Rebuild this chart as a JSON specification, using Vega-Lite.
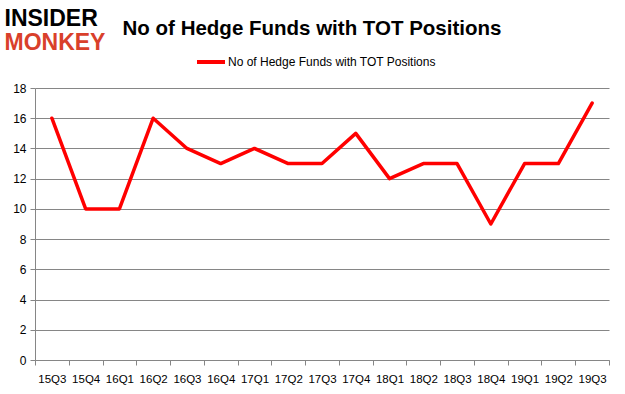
{
  "$schema": "https://vega.github.io/schema/vega-lite/v6.json",
  "autosize": "none",
  "width": 574,
  "height": 272,
  "padding": {"left": 35, "top": 88, "right": 16, "bottom": 34},
  "background": "white",
  "title": {
    "text": "No of Hedge Funds with TOT Positions",
    "font": "Liberation Sans",
    "fontSize": 20.5,
    "fontWeight": "bold",
    "color": "#000000",
    "anchor": "middle",
    "dx": -10,
    "offset": -32
  },
  "data": {
    "values": [
      {"q": "15Q3", "v": 16, "s": "No of Hedge Funds with TOT Positions"},
      {"q": "15Q4", "v": 10, "s": "No of Hedge Funds with TOT Positions"},
      {"q": "16Q1", "v": 10, "s": "No of Hedge Funds with TOT Positions"},
      {"q": "16Q2", "v": 16, "s": "No of Hedge Funds with TOT Positions"},
      {"q": "16Q3", "v": 14, "s": "No of Hedge Funds with TOT Positions"},
      {"q": "16Q4", "v": 13, "s": "No of Hedge Funds with TOT Positions"},
      {"q": "17Q1", "v": 14, "s": "No of Hedge Funds with TOT Positions"},
      {"q": "17Q2", "v": 13, "s": "No of Hedge Funds with TOT Positions"},
      {"q": "17Q3", "v": 13, "s": "No of Hedge Funds with TOT Positions"},
      {"q": "17Q4", "v": 15, "s": "No of Hedge Funds with TOT Positions"},
      {"q": "18Q1", "v": 12, "s": "No of Hedge Funds with TOT Positions"},
      {"q": "18Q2", "v": 13, "s": "No of Hedge Funds with TOT Positions"},
      {"q": "18Q3", "v": 13, "s": "No of Hedge Funds with TOT Positions"},
      {"q": "18Q4", "v": 9, "s": "No of Hedge Funds with TOT Positions"},
      {"q": "19Q1", "v": 13, "s": "No of Hedge Funds with TOT Positions"},
      {"q": "19Q2", "v": 13, "s": "No of Hedge Funds with TOT Positions"},
      {"q": "19Q3", "v": 17, "s": "No of Hedge Funds with TOT Positions"}
    ]
  },
  "mark": {"type": "line", "strokeWidth": 3.5, "strokeCap": "round", "strokeJoin": "round"},
  "encoding": {
    "x": {
      "field": "q",
      "type": "ordinal",
      "sort": null,
      "scale": {"type": "band", "paddingInner": 0, "paddingOuter": 0},
      "axis": {
        "title": "MONKEY",
        "titleFont": "Liberation Sans",
        "titleFontSize": 23,
        "titleFontWeight": "bold",
        "titleColor": "#d9402b",
        "titleAnchor": "start",
        "titleAlign": "left",
        "titleBaseline": "alphabetic",
        "titleX": -31,
        "titleY": -311,
        "labelAngle": 0,
        "labelFont": "Liberation Sans",
        "labelFontSize": 11.5,
        "labelColor": "#000000",
        "labelPadding": 8,
        "tickBand": "extent",
        "tickColor": "#868686",
        "tickSize": 5,
        "domainColor": "#868686",
        "grid": false
      }
    },
    "y": {
      "field": "v",
      "type": "quantitative",
      "scale": {"domain": [0, 18]},
      "axis": {
        "title": "INSIDER",
        "titleFont": "Liberation Sans",
        "titleFontSize": 23,
        "titleFontWeight": "bold",
        "titleColor": "#000000",
        "titleAngle": 0,
        "titleAlign": "left",
        "titleBaseline": "alphabetic",
        "titleX": -31,
        "titleY": -63,
        "values": [0, 2, 4, 6, 8, 10, 12, 14, 16, 18],
        "labelFont": "Liberation Sans",
        "labelFontSize": 12,
        "labelColor": "#000000",
        "labelPadding": 4,
        "tickColor": "#868686",
        "tickSize": 5,
        "domainColor": "#868686",
        "gridColor": "#868686",
        "gridWidth": 1
      }
    },
    "color": {
      "field": "s",
      "type": "nominal",
      "scale": {"range": ["#ff0000"]},
      "legend": {
        "title": null,
        "orient": "none",
        "legendX": 160,
        "legendY": -42,
        "symbolType": "stroke",
        "symbolSize": 784,
        "symbolStrokeWidth": 4,
        "labelFont": "Liberation Sans",
        "labelFontSize": 12,
        "labelLimit": 400,
        "labelColor": "#000000",
        "labelOffset": 1
      }
    }
  },
  "config": {"view": {"stroke": null}}
}
